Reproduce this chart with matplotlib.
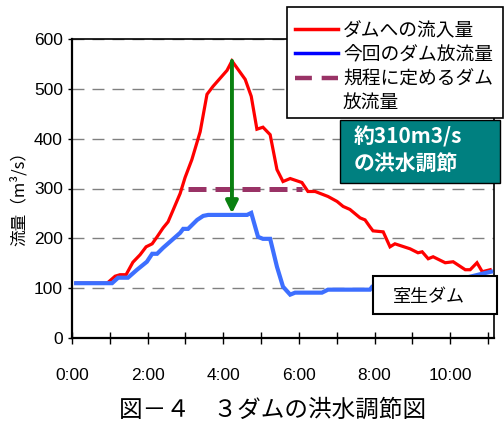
import matplotlib
matplotlib.use("Agg")
import matplotlib.pyplot as plt
from matplotlib.lines import Line2D
from matplotlib.patches import Rectangle
from matplotlib.transforms import ScaledTranslation

plt.rcParams['font.family'] = ['Noto Sans CJK JP', 'DejaVu Sans']

# =============================================================================
# Données
# =============================================================================
# ダムへの流入量 (時刻[h], 流量[m3/s])
inflow_t = [0.11, 0.93, 1.14, 1.27, 1.43, 1.61, 1.80, 1.96, 2.12, 2.25, 2.41, 2.54,
            2.67, 2.86, 2.99, 3.17, 3.39, 3.57, 3.73, 4.10, 4.23, 4.58, 4.74, 4.89,
            5.05, 5.24, 5.42, 5.58, 5.77, 6.08, 6.24, 6.43, 6.77, 7.01, 7.17, 7.35,
            7.62, 7.75, 7.88, 7.96, 8.23, 8.41, 8.54, 8.94, 9.15, 9.26, 9.42, 9.55,
            9.87, 10.08, 10.40, 10.53, 10.71, 10.85, 11.06]
inflow_q = [110, 110, 124, 127, 127, 152, 167, 183, 189, 203, 221, 233,
            256, 290, 322, 358, 414, 489, 505, 537, 556, 519, 485, 419,
            423, 408, 338, 314, 320, 312, 294, 294, 284, 274, 264, 258,
            241, 237, 223, 215, 213, 183, 189, 179, 171, 173, 159, 163,
            151, 153, 137, 137, 151, 133, 137]

# 今回のダム放流量
outflow_t = [0.11, 1.06, 1.22, 1.48, 1.72, 1.98, 2.12, 2.25, 2.41, 2.59, 2.86, 2.94,
             3.07, 3.31, 3.47, 3.60, 4.63, 4.74, 4.92, 5.05, 5.24, 5.42, 5.58, 5.77,
             5.90, 6.61, 6.77, 7.88, 7.94, 9.21, 10.26, 10.85, 11.08]
outflow_q = [110, 110, 121, 121, 137, 153, 169, 169, 181, 193, 211, 219,
             219, 237, 245, 247, 247, 251, 203, 199, 199, 143, 103, 87,
             91, 91, 97, 97, 103, 108, 118, 129, 133]

# 規程に定めるダム放流量
rule_t = [3.07, 6.08]
rule_q = [300, 300]

peak_t = 4.23
peak_q = 556
cut_q = 250

tick_hours = list(range(0, 12))
tick_labels = ['0:00', '', '2:00', '', '4:00', '', '6:00', '', '8:00', '', '10:00', '']

# =============================================================================
# Figure
# =============================================================================
W, H = 504, 425
fig = plt.figure(figsize=(W / 100, H / 100), dpi=100)
ax = fig.add_axes([72 / W, 1 - 338 / H, (494 - 72) / W, (338 - 39) / H])

def fx(x):
    return x / W

def fy(y):
    return 1 - y / H

ax.plot(inflow_t, inflow_q, color='#FF0000', lw=2.3, zorder=3, solid_joinstyle='miter')
ax.plot(rule_t, rule_q, color='#993366', lw=3.6, dashes=(3.6, 1.8), zorder=3.5)
ax.plot(outflow_t, outflow_q, color='#3D6FFF', lw=3.0, zorder=4, solid_joinstyle='miter')
ax.annotate('', xy=(peak_t, cut_q), xytext=(peak_t, peak_q),
            arrowprops=dict(arrowstyle='-|>', color='#0A8010', lw=2.8,
                            mutation_scale=18, shrinkA=0, shrinkB=0), zorder=6)

ax.set_xlim(0, 11.16)
ax.set_ylim(0, 600)
ax.set_yticks(range(0, 700, 100))
ax.set_xticks(tick_hours)
ax.set_xticklabels(tick_labels)

num_font = ['Liberation Sans', 'DejaVu Sans']
for lbl in ax.get_yticklabels() + ax.get_xticklabels():
    lbl.set_family(num_font)
    lbl.set_fontsize(12.5)
off = ScaledTranslation(5 / 100, 0, fig.dpi_scale_trans)
for lbl in ax.get_xticklabels():
    lbl.set_transform(lbl.get_transform() + off)

ax.tick_params(axis='y', direction='out', length=3, width=1, pad=3.5)
ax.tick_params(axis='x', direction='inout', length=9, width=1, pad=17)
ax.yaxis.grid(True, color='#808080', lw=1, linestyle=(0, (8.6, 5.8)))
ax.set_axisbelow(True)
for s in ax.spines.values():
    s.set_linewidth(1.2)
ax.spines['left'].set_linewidth(1.6)
ax.spines['bottom'].set_linewidth(1.6)

# légende manuelle
fig.add_artist(Rectangle((fx(287), fy(118)), (503 - 287) / W, (118 - 7) / H,
                         transform=fig.transFigure, fc='white', ec='black', lw=1.2, zorder=5))
fig.add_artist(Line2D([fx(295), fx(338)], [fy(29), fy(29)], transform=fig.transFigure,
                      color='#FF0000', lw=2.5, zorder=6))
fig.add_artist(Line2D([fx(295), fx(338)], [fy(53), fy(53)], transform=fig.transFigure,
                      color='#0000FF', lw=2.5, zorder=6))
fig.add_artist(Line2D([fx(295), fx(338)], [fy(78), fy(78)], transform=fig.transFigure,
                      color='#993366', lw=3.2, dashes=(3.8, 2.2), zorder=6))
leg_txt = ['ダムへの流入量', '今回のダム放流量', '規程に定めるダム', '放流量']
for i, t in enumerate(leg_txt):
    fig.text(fx(343), fy(31 + 24 * i), t, fontsize=13.5, va='center', ha='left', zorder=7)

# encadré vert
fig.add_artist(Rectangle((fx(340), fy(183)), 160 / W, 63 / H, transform=fig.transFigure,
                         fc='#008080', ec='black', lw=1, zorder=5))
fig.text(fx(354), fy(137), '約310m3/s', color='white', fontsize=15, fontweight='bold',
         va='center', ha='left', zorder=7)
fig.text(fx(354), fy(163), 'の洪水調節', color='white', fontsize=15, fontweight='bold',
         va='center', ha='left', zorder=7)

# nom du barrage
fig.add_artist(Rectangle((fx(373), fy(314)), 124 / W, 38 / H, transform=fig.transFigure,
                         fc='white', ec='black', lw=1.5, zorder=5))
fig.text(fx(429), fy(297), '室生ダム', fontsize=13, va='center', ha='center', zorder=7)

fig.text(fx(19), fy(195), '流量（m³/s）', rotation=90, fontsize=12, va='center', ha='center')
fig.text(fx(273), fy(410), '図－４　３ダムの洪水調節図', fontsize=17, va='center', ha='center')

fig.savefig('out.png', dpi=100)
